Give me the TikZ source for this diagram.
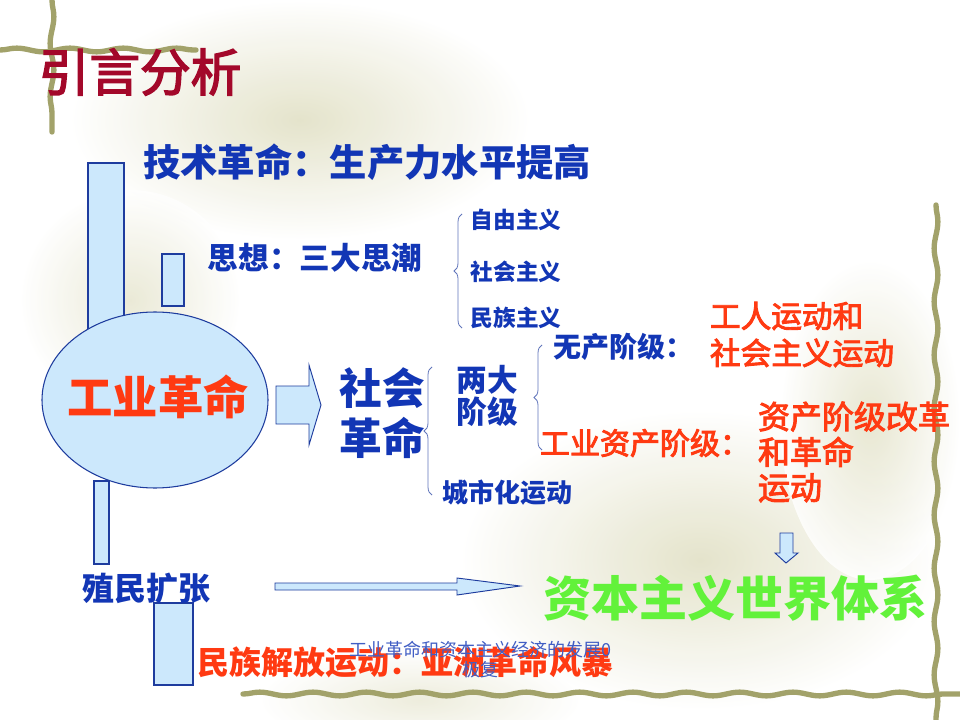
\documentclass[tikz,border=0pt]{standalone}
\usepackage{fontspec}
\newfontfamily\cjk{Noto Sans CJK SC}
\newfontfamily\cjkm[FakeBold=3]{Noto Sans CJK SC}
\usetikzlibrary{decorations.pathmorphing,decorations.pathreplacing}
\definecolor{txtblue}{HTML}{1236B5}
\definecolor{txtred}{HTML}{FF3A12}
\definecolor{ttlred}{HTML}{A3082A}
\definecolor{txtgreen}{HTML}{62F23A}
\definecolor{boxfill}{HTML}{CCE8FC}
\definecolor{boxline}{HTML}{1E3C9E}
\definecolor{olive}{HTML}{A2A26A}
\definecolor{blob}{HTML}{E2E1C6}
\tikzset{
  lbl/.style={inner sep=0pt, outer sep=0pt},
  bluetxt/.style={lbl, text=txtblue},
  redtxt/.style={lbl, text=txtred},
  bar/.style={draw=boxline, fill=boxfill, line width=0.8pt},
  blockarrow/.style={draw=boxline, fill=boxfill, line width=0.7pt, line join=miter},
  curly/.style={draw=boxline!70, line width=0.6pt, decorate, decoration={brace, amplitude=6pt}},
  wavy/.style={draw=olive, line width=4pt, line cap=round, decorate,
    decoration={snake, segment length=40pt, amplitude=1.4pt}},
  f/.style={font=\cjk\bfseries\fontsize{#1}{#1}\selectfont},
  fm/.style={font=\cjkm\fontsize{#1}{#1}\selectfont}
}
\begin{document}
\begin{tikzpicture}[x=0.75pt, y=-0.75pt]
\useasboundingbox (0,0) rectangle (960,720);
\fill[white] (0,0) rectangle (960,720);
% soft background blotches
\shade[inner color=blob, outer color=white, opacity=0.9] (300,120) ellipse (230 and 120);
\shade[inner color=blob, outer color=white, opacity=0.7] (130,300) ellipse (110 and 110);
\shade[inner color=blob, outer color=white, opacity=0.9] (700,560) ellipse (240 and 150);
\shade[inner color=blob, outer color=white, opacity=0.8] (870,420) ellipse (90 and 160);
\shade[inner color=blob, outer color=white, opacity=0.6] (420,700) ellipse (160 and 50);
% decorative borders
\draw[wavy] (0,50) -- (196,50);
\draw[wavy] (52,0) -- (52,132);
\draw[wavy] (936,205) -- (936,720);
\draw[wavy] (243,694) -- (960,694);

% title
\node[lbl, text=ttlred, fm=38] (title) at (140,72) {引言分析};
\node[bluetxt, f=28] (tech) at (367,162) {技术革命：生产力水平提高};

% bars
\node[bar, minimum width=36*0.75pt, minimum height=166*0.75pt, inner sep=0pt] (bar1) at (106,246) {};
\node[bar, minimum width=22*0.75pt, minimum height=52*0.75pt, inner sep=0pt] (bar2) at (173,280) {};
\node[bar, minimum width=15*0.75pt, minimum height=83*0.75pt, inner sep=0pt] (bar3) at (101.5,522.5) {};
\node[bar, minimum width=39*0.75pt, minimum height=82*0.75pt, inner sep=0pt] (bar4) at (173.5,644) {};

% ellipse
\draw[bar] (155,400) ellipse (113 and 88);
\node[redtxt, f=34] (ind) at (158,397) {工业革命};

% thoughts
\node[bluetxt, f=23] (idea) at (315,258) {思想：三大思潮};
\draw[curly] (462,328) -- (462,214);
\node[bluetxt, f=17] (lib) at (516,220) {自由主义};
\node[bluetxt, f=17] (soc) at (516,272) {社会主义};
\node[bluetxt, f=17] (nat) at (516,318) {民族主义};

% big arrow
\filldraw[blockarrow] (276,386) -- (309,386) -- (309,365) -- (321,405) -- (309,445) -- (309,424) -- (276,424) -- cycle;

% social revolution
\node[bluetxt, font=\cjk\bfseries\fontsize{32}{37.5}\selectfont, align=center] (socrev) at (382,413) {社会\\革命};
\draw[curly] (432,495) -- (432,367);
\node[bluetxt, font=\cjk\bfseries\fontsize{23}{24}\selectfont, align=center] (two) at (487,396) {两大\\阶级};
\draw[curly] (542,450) -- (542,345);
\node[bluetxt, f=19.5] (urb) at (507,493) {城市化运动};

\node[bluetxt, f=21, anchor=west] (prol) at (553,347) {无产阶级：};
\node[redtxt, anchor=west, font=\cjkm\fontsize{23}{27.75}\selectfont, align=left] (work) at (710,334.5) {工人运动和\\社会主义运动};
\node[redtxt, fm=22.5, anchor=west] (bour) at (540,443) {工业资产阶级：};
\node[redtxt, anchor=west, font=\cjkm\fontsize{24}{26.6}\selectfont, align=left] (reform) at (758,452) {资产阶级改革\\和革命\\运动};

% small down arrow
\filldraw[blockarrow] (780,533) -- (793,533) -- (793,553) -- (798,553) -- (786,563) -- (775,553) -- (780,553) -- cycle;

% world system
\node[lbl, text=txtgreen, f=36] (world) at (735,598) {资本主义世界体系};

% colonial
\node[bluetxt, f=24] (col) at (146,588) {殖民扩张};
\filldraw[blockarrow] (275,583) -- (457,583) -- (457,578) -- (520,586) -- (457,595) -- (457,590) -- (275,590) -- cycle;

% liberation
\node[redtxt, f=24, anchor=west] (lib2) at (197,662) {民族解放运动：亚洲革命风暴};

% footer
\node[lbl, text=txtblue!80, font=\cjk\fontsize{13.5}{15}\selectfont, align=center] (foot) at (480,660) {工业革命和资本主义经济的发展0\\极复};
\end{tikzpicture}
\end{document}
